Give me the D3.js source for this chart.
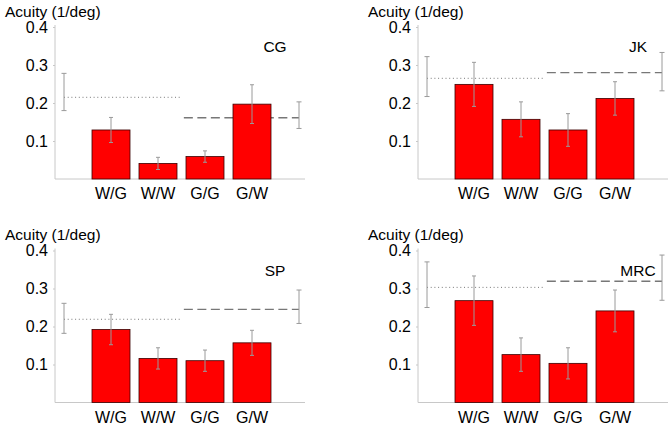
<!DOCTYPE html>
<html>
<head>
<meta charset="utf-8">
<script src="https://cdn.jsdelivr.net/npm/d3@7"></script>
<style>
  html, body { margin: 0; padding: 0; background: #fff; }
  svg { display: block; }
  text { font-family: "Liberation Sans", Arial, sans-serif; }
</style>
</head>
<body>
<svg id="chart" width="672" height="429"></svg>
<script>
// ---- data ----
const categories = ["W/G", "W/W", "G/G", "G/W"];
const subjects = ["CG", "JK", "SP", "MRC"];
const yTicks = [0.1, 0.2, 0.3, 0.4];
const yTickLabels = ["0.1", "0.2", "0.3", "0.4"];
const yTitle = "Acuity (1/deg)";

// bar means per subject (order of categories)
const barCG  = [0.129, 0.041, 0.059, 0.197];
const barJK  = [0.249, 0.157, 0.129, 0.212];
const barSP  = [0.192, 0.116, 0.110, 0.157];
const barMRC = [0.268, 0.126, 0.103, 0.241];
// bar error half-widths
const errCG  = [0.033, 0.016, 0.015, 0.051];
const errJK  = [0.058, 0.046, 0.043, 0.044];
const errSP  = [0.040, 0.028, 0.028, 0.033];
const errMRC = [0.065, 0.044, 0.041, 0.055];
// left (dotted) reference: [mean, low, high]
const leftRefCG  = [0.215, 0.180, 0.278];
const leftRefJK  = [0.265, 0.217, 0.322];
const leftRefSP  = [0.219, 0.182, 0.261];
const leftRefMRC = [0.303, 0.250, 0.370];
// right (dashed) reference: [mean, low, high]
const rightRefCG  = [0.161, 0.133, 0.203];
const rightRefJK  = [0.280, 0.232, 0.333];
const rightRefSP  = [0.245, 0.208, 0.296];
const rightRefMRC = [0.319, 0.269, 0.388];

const panels = [
  { name: subjects[0], bars: barCG,  errs: errCG,  left: leftRefCG,  right: rightRefCG,  dx: 0,   dy: 0 },
  { name: subjects[1], bars: barJK,  errs: errJK,  left: leftRefJK,  right: rightRefJK,  dx: 363, dy: 0 },
  { name: subjects[2], bars: barSP,  errs: errSP,  left: leftRefSP,  right: rightRefSP,  dx: 0,   dy: 223.5 },
  { name: subjects[3], bars: barMRC, errs: errMRC, left: leftRefMRC, right: rightRefMRC, dx: 363, dy: 223.5 }
];

// ---- layout ----
const svg = d3.select("#chart");
const x = d3.scaleLinear().domain([0, 5]).range([64, 299]);
const y = d3.scaleLinear().domain([0, 0.4]).range([179, 27]);
const barW = 38;
const axisColor = "#c8c8c8";
const errColor = "#9a9a9a";

function errBar(g, xi, lo, hi, cap) {
  const cx = x(xi);
  g.append("line").attr("x1", cx).attr("x2", cx).attr("y1", y(lo)).attr("y2", y(hi))
    .attr("stroke", errColor).attr("stroke-width", 1);
  [lo, hi].forEach(v => {
    g.append("line").attr("x1", cx - cap).attr("x2", cx + cap).attr("y1", y(v)).attr("y2", y(v))
      .attr("stroke", errColor).attr("stroke-width", 1);
  });
}

panels.forEach(p => {
  const g = svg.append("g").attr("transform", `translate(${p.dx},${p.dy})`);

  // title
  g.append("text").attr("x", 5).attr("y", 16.5)
    .attr("font-size", 15.5).attr("fill", "#000").text(yTitle);

  // y axis
  const yAxis = d3.axisLeft(y).tickValues(yTicks)
    .tickFormat((d, i) => yTickLabels[i]).tickSize(2).tickSizeOuter(0).tickPadding(5);
  const ax = g.append("g").attr("transform", "translate(55,0)").call(yAxis);
  ax.select(".domain").attr("stroke", axisColor).attr("d", `M0,${y(0.4) - 2}V${y(0)}`);
  ax.selectAll(".tick line").attr("stroke", axisColor);
  ax.selectAll(".tick text").attr("font-size", 16).attr("fill", "#000")
    .attr("font-family", "Liberation Sans, Arial, sans-serif");

  // x baseline
  g.append("line").attr("x1", 55).attr("x2", x(5) + 6).attr("y1", y(0)).attr("y2", y(0))
    .attr("stroke", axisColor).attr("stroke-width", 1);

  // reference lines
  g.append("line").attr("x1", x(0)).attr("x2", x(2.48))
    .attr("y1", y(p.left[0])).attr("y2", y(p.left[0]))
    .attr("stroke", "#777").attr("stroke-width", 1).attr("stroke-dasharray", "1,2.7");
  g.append("line").attr("x1", x(2.55)).attr("x2", x(5))
    .attr("y1", y(p.right[0])).attr("y2", y(p.right[0]))
    .attr("stroke", "#777").attr("stroke-width", 1.4).attr("stroke-dasharray", "9,4.5");
  errBar(g, 0, p.left[1], p.left[2], 2.5);
  errBar(g, 5, p.right[1], p.right[2], 2.5);

  // bars
  g.selectAll("rect.bar").data(p.bars).join("rect").attr("class", "bar")
    .attr("x", (d, i) => x(i + 1) - barW / 2).attr("width", barW)
    .attr("y", d => y(d)).attr("height", d => y(0) - y(d))
    .attr("fill", "#ff0000").attr("stroke", "#3a0000").attr("stroke-width", 0.8);

  p.bars.forEach((v, i) => errBar(g, i + 1, v - p.errs[i], v + p.errs[i], 2));

  // category labels
  g.selectAll("text.cat").data(categories).join("text").attr("class", "cat")
    .attr("x", (d, i) => x(i + 1)).attr("y", 199)
    .attr("text-anchor", "middle").attr("font-size", 16).attr("fill", "#000").text(d => d);

  // subject label
  g.append("text").attr("x", 275).attr("y", 52).attr("text-anchor", "middle")
    .attr("font-size", 15.5).attr("fill", "#000").text(p.name);
});
</script>
</body>
</html>
